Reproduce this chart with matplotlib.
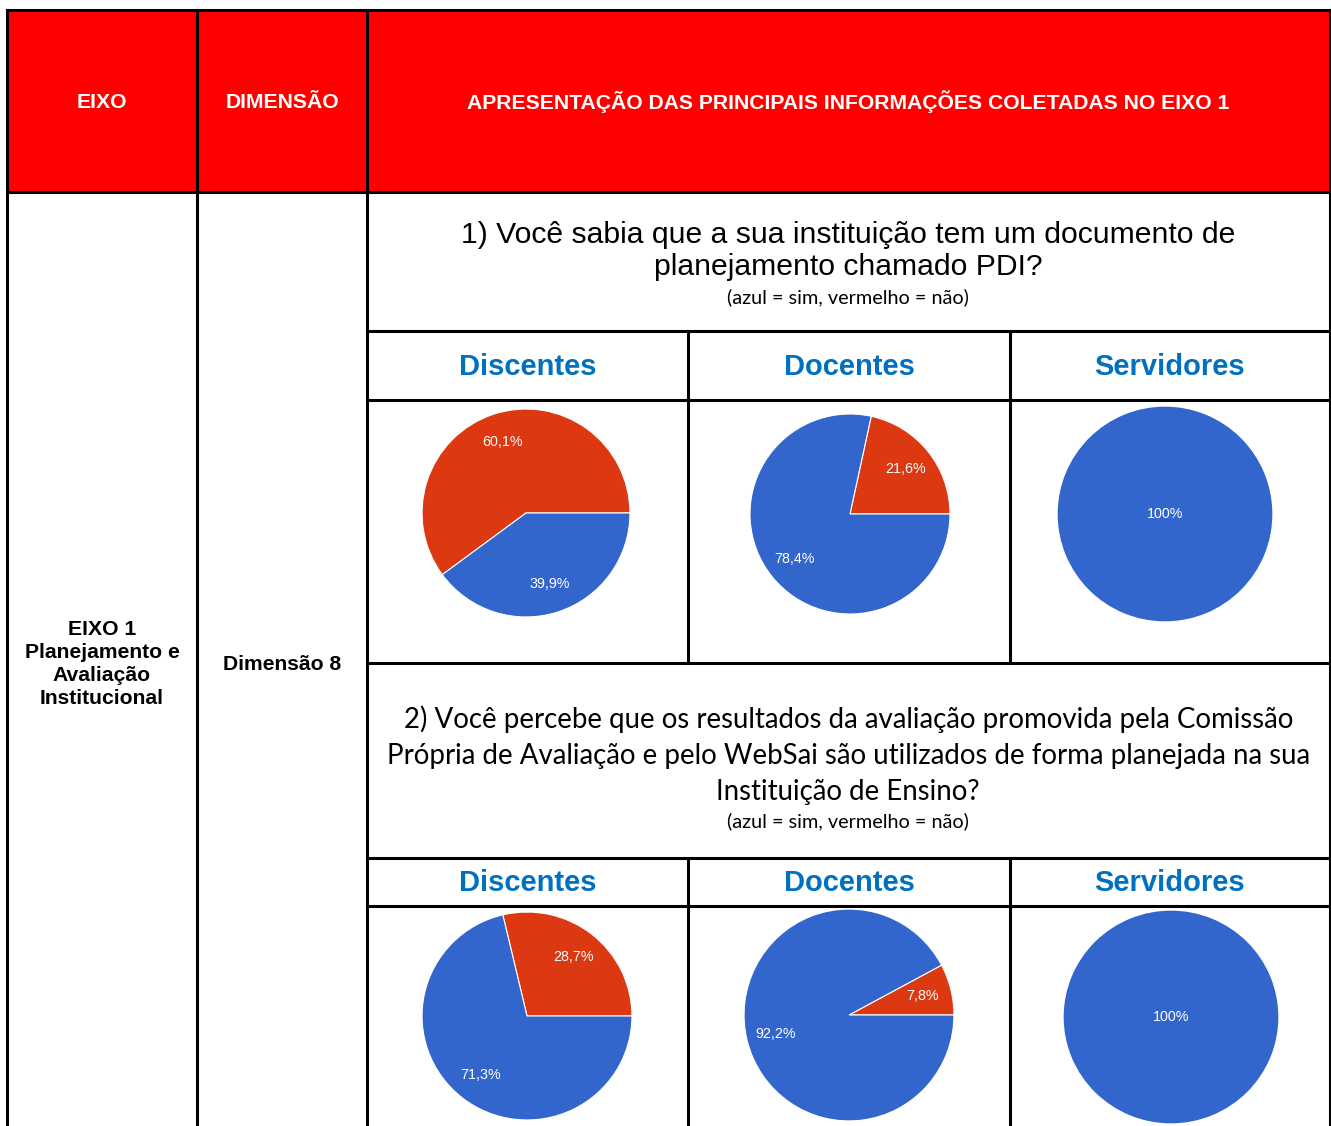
import matplotlib
matplotlib.use("Agg")
import matplotlib.pyplot as plt
from matplotlib.patches import Rectangle

# ---------------- data ----------------
header_labels = ["EIXO", "DIMENSÃO", "APRESENTAÇÃO DAS PRINCIPAIS INFORMAÇÕES COLETADAS NO EIXO 1"]
eixo_label = "EIXO 1\nPlanejamento e\nAvaliação\nInstitucional"
dimensao_label = "Dimensão 8"
groups = ["Discentes", "Docentes", "Servidores"]
legend_note = "(azul = sim, vermelho = não)"
q1_title = "1) Você sabia que a sua instituição tem um documento de\nplanejamento chamado PDI?"
q2_title = ("2) Você percebe que os resultados da avaliação promovida pela Comissão\n"
            "Própria de Avaliação e pelo WebSai são utilizados de forma planejada na sua\n"
            "Instituição de Ensino?")
answer_labels = ["não", "sim"]
# percentages [não, sim] per group
q1_nao = [60.1, 21.6, 0.0]
q1_sim = [39.9, 78.4, 100.0]
q2_nao = [28.7, 7.8, 0.0]
q2_sim = [71.3, 92.2, 100.0]

# ---------------- style ----------------
W, H = 1331, 1126
RED_HDR = "#FF0000"
BLUE_TXT = "#0070C0"
C_SIM = "#3366CC"
C_NAO = "#DC3912"
LW = 2.2

fig = plt.figure(figsize=(W / 100, H / 100), dpi=100)
ax = fig.add_axes([0, 0, 1, 1])
ax.set_xlim(0, W)
ax.set_ylim(H, 0)
ax.axis("off")

# table geometry (pixels)
xL, xC1, xC2, xR = 7, 197, 367, 1329.5
xS1, xS2 = 688, 1010
yT, yH = 10, 192
yQ1b, yS1b, yP1b = 331, 400, 663
yQ2b, yS2b = 858, 906

# header fill
ax.add_patch(Rectangle((xL, yT), xR - xL, yH - yT, facecolor=RED_HDR, edgecolor="none", zorder=0))

def hline(y, x0, x1):
    ax.plot([x0, x1], [y, y], color="black", lw=LW, solid_capstyle="projecting", zorder=3)

def vline(x, y0, y1):
    ax.plot([x, x], [y0, y1], color="black", lw=LW, solid_capstyle="projecting", zorder=3)

hline(yT, xL, xR)
hline(yH, xL, xR)
for y in [yQ1b, yS1b, yP1b, yQ2b, yS2b]:
    hline(y, xC2, xR)
for x in [xL, xC1, xC2, xR]:
    vline(x, yT, H + 5)
for x in [xS1, xS2]:
    vline(x, yQ1b, yP1b)
    vline(x, yQ2b, H + 5)

# header text
hdr_font = dict(family="Liberation Sans", weight="bold", color="white", fontsize=15.2,
                ha="center", va="center")
ax.text((xL + xC1) / 2, 102, header_labels[0], **hdr_font)
ax.text((xC1 + xC2) / 2, 102, header_labels[1], **hdr_font)
ax.text((xC2 + xR) / 2, 102, header_labels[2], **hdr_font)

# left column texts
ax.text((xL + xC1) / 2, 664, eixo_label, family="Liberation Sans", weight="bold",
        fontsize=15.2, ha="center", va="center", linespacing=1.28)
ax.text((xC1 + xC2) / 2, 664, dimensao_label, family="Liberation Sans", weight="bold",
        fontsize=15.2, ha="center", va="center")

xmid = (xC2 + xR) / 2
# question 1
ax.text(xmid, 251, q1_title, family="Liberation Sans", fontsize=21.7, ha="center",
        va="center", linespacing=1.2)
ax.text(xmid, 297, legend_note, family="Lato", fontsize=14.3, ha="center", va="center")
# question 2
ax.text(xmid, 755, q2_title, family="Lato", fontsize=19.9, ha="center",
        va="center", linespacing=1.48)
ax.text(xmid, 821, legend_note, family="Lato", fontsize=14.3, ha="center", va="center")

# sub-headers
col_centers = [(xC2 + xS1) / 2, (xS1 + xS2) / 2, (xS2 + xR) / 2]
for cx, g in zip(col_centers, groups):
    for yc in [367, 883]:
        ax.text(cx, yc, g, family="Liberation Sans", weight="bold", fontsize=21,
                color=BLUE_TXT, ha="center", va="center")

# pies: (cx, cy, rx, ry) in pixels
pie_boxes_q1 = [(526, 513, 105, 105), (850, 514, 101, 101), (1165, 514, 109, 109)]
pie_boxes_q2 = [(527, 1016, 106, 105), (849, 1015, 106, 107), (1171, 1017, 109, 108)]

def fmt_pct(p):
    if abs(p - 100) < 1e-6:
        return "100%"
    return f"{p:.1f}".replace(".", ",") + "%"

def draw_pie(box, nao, sim):
    cx, cy, rx, ry = box
    pax = fig.add_axes([(cx - rx) / W, 1 - (cy + ry) / H, 2 * rx / W, 2 * ry / H])
    vals, cols = [], []
    for v, c in zip([nao, sim], [C_NAO, C_SIM]):
        if v > 0:
            vals.append(v)
            cols.append(c)
    pdist = 0.0 if len(vals) == 1 else 0.72
    wedges, texts, autotexts = pax.pie(
        vals, colors=cols, startangle=0, counterclock=True, radius=1,
        autopct=lambda p: fmt_pct(p), pctdistance=pdist,
        wedgeprops=dict(edgecolor="white", linewidth=0.8),
        textprops=dict(color="white", fontsize=10.3, family="Liberation Sans"))
    pax.set_aspect("auto")
    pax.set_xlim(-1.01, 1.01)
    pax.set_ylim(-1.01, 1.01)
    pax.axis("off")

for box, n, s in zip(pie_boxes_q1, q1_nao, q1_sim):
    draw_pie(box, n, s)
for box, n, s in zip(pie_boxes_q2, q2_nao, q2_sim):
    draw_pie(box, n, s)

fig.savefig("out.png", dpi=100, facecolor="white")
